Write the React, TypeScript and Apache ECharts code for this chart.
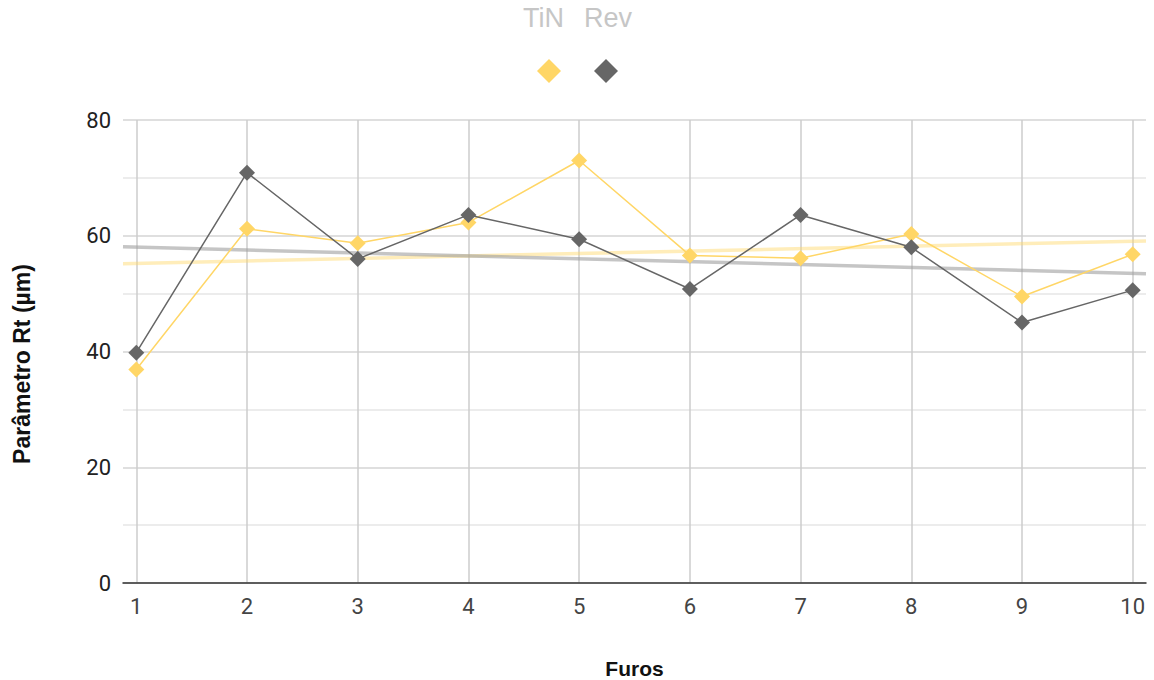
import React, { useEffect, useRef } from "react";
import * as echarts from "echarts";

const furos = [1, 2, 3, 4, 5, 6, 7, 8, 9, 10];
const tinValues = [36.9, 61.2, 58.7, 62.3, 73.0, 56.6, 56.1, 60.3, 49.5, 56.8];
const revValues = [39.8, 70.9, 56.0, 63.6, 59.4, 50.8, 63.6, 58.0, 45.0, 50.6];
const xMin = 0.88;
const xMax = 10.12;

function trend(xs: number[], ys: number[]) {
  const n = xs.length;
  const mx = xs.reduce((a, b) => a + b, 0) / n;
  const my = ys.reduce((a, b) => a + b, 0) / n;
  let num = 0;
  let den = 0;
  for (let i = 0; i < n; i++) {
    num += (xs[i] - mx) * (ys[i] - my);
    den += (xs[i] - mx) * (xs[i] - mx);
  }
  const slope = num / den;
  const b = my - slope * mx;
  return [
    [xMin, b + slope * xMin],
    [xMax, b + slope * xMax],
  ];
}

const YELLOW = "#ffd666";
const GRAY = "#666666";

export default function App() {
  const ref = useRef<HTMLDivElement>(null);
  useEffect(() => {
    if (!ref.current) return;
    const chart = echarts.init(ref.current, null, { renderer: "svg" });
    chart.setOption({
      animation: false,
      textStyle: { fontFamily: "Roboto" },
      grid: {
        left: 123,
        right: 8,
        top: 120,
        bottom: 97,
        containLabel: false,
        outerBoundsMode: "none",
      },
      xAxis: {
        type: "value",
        min: xMin,
        max: xMax,
        name: "Furos",
        nameLocation: "middle",
        nameGap: 75,
        nameTextStyle: { fontWeight: "bold", fontSize: 21, color: "#111", fontFamily: "Liberation Sans" },
        axisLine: { show: true, onZero: false, lineStyle: { color: "#333", width: 1.5 } },
        axisTick: { show: false, customValues: furos },
        axisLabel: {
          customValues: furos,
          fontSize: 22,
          color: "#444",
          margin: 12,
        },
        splitLine: { show: true, lineStyle: { color: "#cccccc", width: 1.5 } },
      },
      yAxis: {
        type: "value",
        min: 0,
        max: 80,
        interval: 10,
        axisLine: { show: false },
        axisTick: { show: false },
        axisLabel: {
          fontSize: 22,
          color: "#222",
          margin: 12,
          formatter: (v: number) => (v % 20 === 0 ? String(v) : ""),
        },
        splitLine: { show: true, lineStyle: { color: ["#d4d4d4", "#e6e6e6"], width: 1.5 } },
      },
      series: [
        {
          name: "TiN trend",
          type: "line",
          data: trend(furos, tinValues),
          symbol: "none",
          lineStyle: { color: YELLOW, width: 3.5, opacity: 0.45 },
          silent: true,
          z: 1,
        },
        {
          name: "Rev trend",
          type: "line",
          data: trend(furos, revValues),
          symbol: "none",
          lineStyle: { color: "#9e9e9e", width: 3.5, opacity: 0.6 },
          silent: true,
          z: 1,
        },
        {
          name: "TiN",
          type: "line",
          data: furos.map((x, i) => [x, tinValues[i]]),
          symbol: "diamond",
          symbolSize: 16,
          itemStyle: { color: YELLOW },
          lineStyle: { color: YELLOW, width: 1.5 },
          z: 3,
        },
        {
          name: "Rev",
          type: "line",
          data: furos.map((x, i) => [x, revValues[i]]),
          symbol: "diamond",
          symbolSize: 16,
          itemStyle: { color: GRAY },
          lineStyle: { color: GRAY, width: 1.5 },
          z: 4,
        },
      ],
      graphic: [
        {
          type: "text",
          x: 22,
          y: 364,
          rotation: Math.PI / 2,
          style: {
            text: "Parâmetro Rt (µm)",
            fontSize: 23,
            fontWeight: "bold",
            fill: "#111",
            fontFamily: "Liberation Sans",
            align: "center",
            verticalAlign: "middle",
          },
        },
        {
          type: "text",
          left: 523,
          top: 4,
          style: { text: "TiN", fontSize: 27, fill: "#c6c6c6", fontFamily: "Liberation Sans" },
        },
        {
          type: "text",
          left: 584,
          top: 4,
          style: { text: "Rev", fontSize: 27, fill: "#c6c6c6", fontFamily: "Liberation Sans" },
        },
        {
          type: "polygon",
          shape: { points: [[549, 59], [561, 71], [549, 83], [537, 71]] },
          style: { fill: YELLOW },
        },
        {
          type: "polygon",
          shape: { points: [[606, 59], [618, 71], [606, 83], [594, 71]] },
          style: { fill: GRAY },
        },
      ],
    });
    return () => chart.dispose();
  }, []);
  return (
    <div
      ref={ref}
      style={{ position: "absolute", left: 0, top: 0, width: 1154, height: 680 }}
    />
  );
}
